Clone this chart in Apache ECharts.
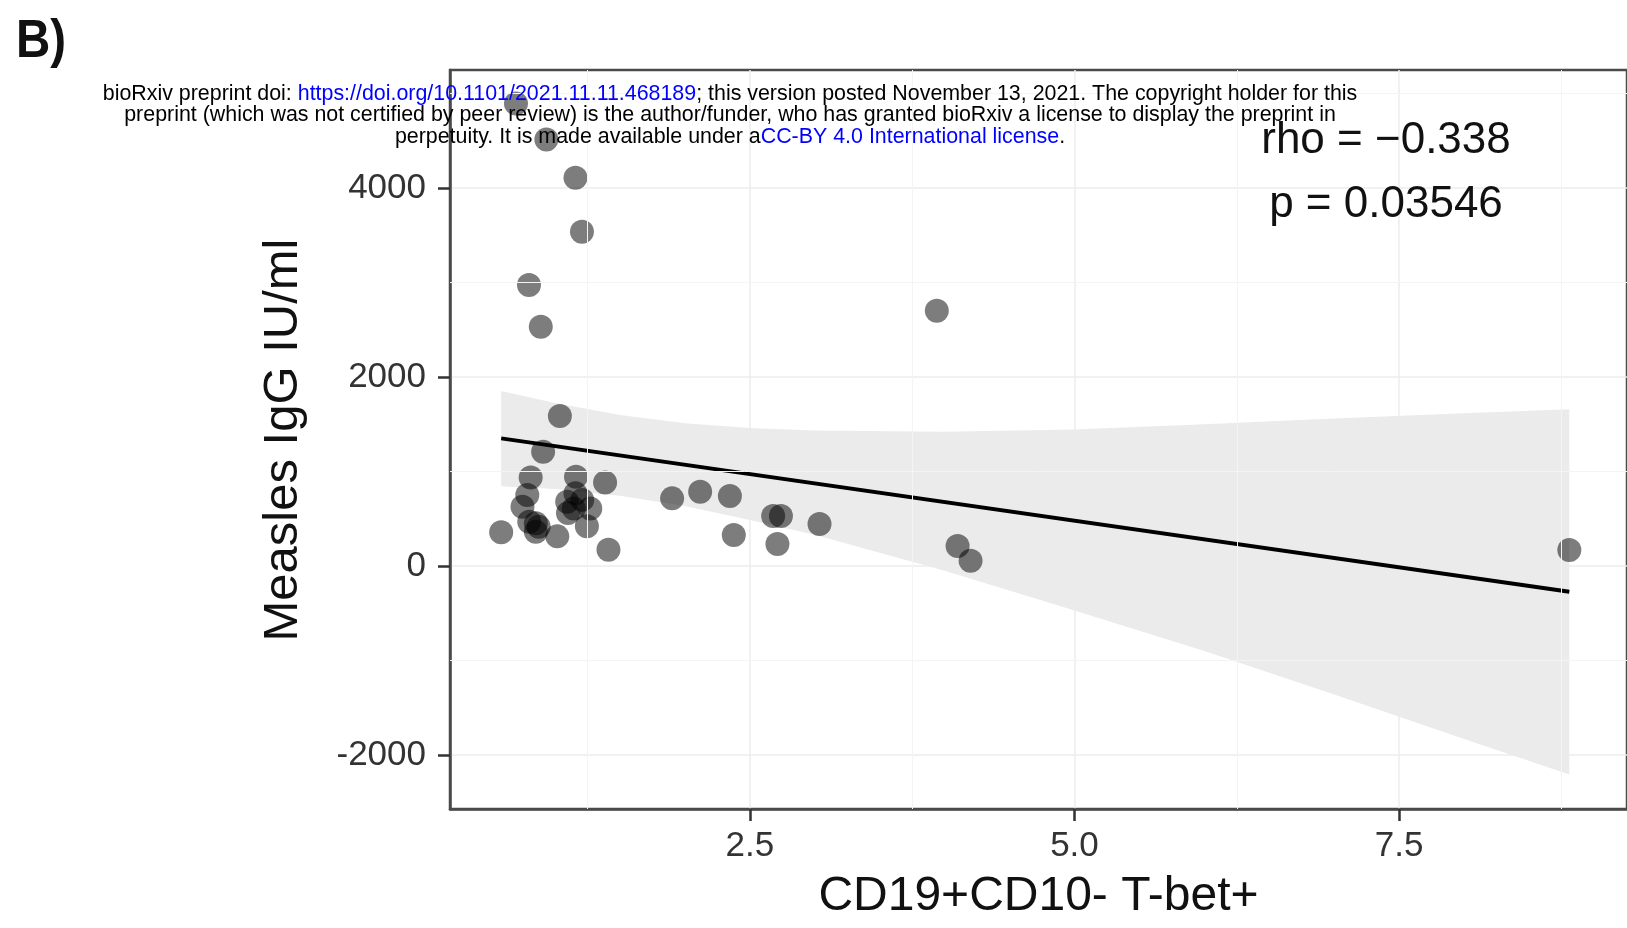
<!DOCTYPE html>
<html>
<head>
<meta charset="utf-8">
<style>
  html, body { margin: 0; padding: 0; background: #fff; }
  #chart { width: 1627px; height: 928px; }
</style>
<script src="https://cdn.jsdelivr.net/npm/echarts@6/dist/echarts.min.js"></script>
</head>
<body>
<div id="chart"></div>
<script>
// values (CD19+CD10- T-bet+ vs measles IgG)
const tbetX = [0.70, 0.934, 1.158, 1.208, 0.80, 0.891, 3.94, 1.038, 0.909, 0.813,
  1.162, 1.386, 0.787, 0.75, 1.094, 1.158, 1.272, 1.145, 0.586, 0.802,
  0.853, 0.853, 1.018, 1.246, 1.412, 1.902, 2.118, 2.347, 2.377, 2.68,
  2.74, 2.713, 3.037, 4.10, 4.20, 8.81, 1.21, 0.875, 1.10]
const measlesIgG = [4895, 4514, 4108, 3537, 2973, 2532, 2701, 1587, 1210, 938,
  945, 885, 751, 627, 680, 769, 610, 610, 358, 469,
  363, 452, 314, 420, 173, 716, 786, 741, 328, 529,
  529, 233, 444, 212, 56, 169, 700, 415, 560]

// lm fit line and its confidence band
const fitX = [0.586, 8.81]
const fitY = [1351, -272]
const bandX = [0.586, 1.0, 1.5, 2.0, 2.5, 3.0, 4.0, 5.0, 6.0, 7.0, 8.0, 8.81]
const bandUpper = [1851, 1725, 1598, 1510, 1460, 1435, 1420, 1445, 1500, 1560, 1616, 1660]
const bandLower = [843, 815, 744, 634, 488, 330, -50, -470, -900, -1360, -1830, -2206]

const xTicks = [2.5, 5.0, 7.5]
const xMinor = [1.25, 3.75, 6.25, 8.75]
const yTicks = [-2000, 0, 2000, 4000]
const yMinor = [-1000, 1000, 3000, 5000]

const FONT = '"Liberation Sans", Arial, sans-serif'
const X_MIN = 0.192
const X_MAX = 9.254
const Y_MIN = -2571
const Y_MAX = 5249

const chart = echarts.init(document.getElementById('chart'))

const points = tbetX.map((x, i) => [x, measlesIgG[i]])
const band = bandX.map((x, i) => [x, bandUpper[i], bandLower[i]])

// minor grid lines (ggplot theme_bw), drawn below the band
const minorLines = xMinor.map(v => ({ xAxis: v })).concat(yMinor.map(v => ({ yAxis: v })))

chart.setOption({
  animation: false,
  grid: {
    left: 450,
    top: 70,
    width: 1189, // right border sits just past the canvas edge, as in the figure
    height: 739,
    show: true,
    borderColor: '#4a4a4a',
    borderWidth: 2.5
  },
  xAxis: {
    type: 'value',
    min: X_MIN,
    max: X_MAX,
    axisLine: { show: true, onZero: false, lineStyle: { color: '#4a4a4a', width: 2.5 } },
    axisTick: { show: true, customValues: xTicks, length: 12, lineStyle: { color: '#333', width: 2.5 } },
    axisLabel: {
      customValues: xTicks,
      margin: 20,
      color: '#333',
      fontSize: 35,
      fontFamily: FONT,
      formatter: v => v.toFixed(1)
    },
    splitLine: { show: true, lineStyle: { color: '#ececec', width: 1.5 } },
    name: 'CD19+CD10- T-bet+',
    nameLocation: 'middle',
    nameGap: 64,
    nameTextStyle: { color: '#111', fontSize: 48, fontFamily: FONT }
  },
  yAxis: {
    type: 'value',
    min: Y_MIN,
    max: Y_MAX,
    axisLine: { show: true, onZero: false, lineStyle: { color: '#4a4a4a', width: 2.5 } },
    axisTick: { show: true, customValues: yTicks, length: 12, lineStyle: { color: '#333', width: 2.5 } },
    axisLabel: {
      customValues: yTicks,
      margin: 24,
      color: '#333',
      fontSize: 35,
      fontFamily: FONT,
      formatter: v => String(v)
    },
    splitLine: { show: true, lineStyle: { color: '#ececec', width: 1.5 } }
  },
  graphic: [
    {
      type: 'text',
      x: 16,
      y: 15,
      scaleX: 0.88,
      style: { text: 'B)', fontSize: 54, fontWeight: 'bold', fontFamily: FONT, fill: '#111' }
    },
    {
      type: 'text',
      rotation: Math.PI / 2,
      x: 283,
      y: 440,
      style: {
        text: 'Measles IgG IU/ml',
        fontSize: 49,
        fontFamily: FONT,
        fill: '#111',
        align: 'center',
        verticalAlign: 'middle'
      }
    },
    {
      type: 'text',
      x: 1386,
      y: 141,
      z: 10,
      style: { text: 'rho = \u22120.338', fontSize: 44, fontFamily: FONT, fill: '#111', align: 'center', verticalAlign: 'middle' }
    },
    {
      type: 'text',
      x: 1386,
      y: 205,
      z: 10,
      style: { text: 'p = 0.03546', fontSize: 44, fontFamily: FONT, fill: '#111', align: 'center', verticalAlign: 'middle' }
    },
    // bioRxiv stamp over the top of the figure
    {
      type: 'text',
      x: 730,
      y: 94,
      z: 20,
      style: {
        text: '{k|bioRxiv preprint doi: }{b|https://doi.org/10.1101/2021.11.11.468189}{k|; this version posted November 13, 2021. The copyright holder for this}',
        align: 'center',
        verticalAlign: 'middle',
        rich: {
          k: { fontSize: 21.4, fontFamily: FONT, fill: '#000', color: '#000' },
          b: { fontSize: 21.4, fontFamily: FONT, fill: '#0000ff', color: '#0000ff' }
        }
      }
    },
    {
      type: 'text',
      x: 730,
      y: 115.5,
      z: 20,
      style: {
        text: 'preprint (which was not certified by peer review) is the author/funder, who has granted bioRxiv a license to display the preprint in',
        fontSize: 21.4,
        fontFamily: FONT,
        fill: '#000',
        align: 'center',
        verticalAlign: 'middle'
      }
    },
    {
      type: 'text',
      x: 730,
      y: 137,
      z: 20,
      style: {
        text: '{k|perpetuity. It is made available under a}{b|CC-BY 4.0 International license}{k|.}',
        align: 'center',
        verticalAlign: 'middle',
        rich: {
          k: { fontSize: 21.4, fontFamily: FONT, fill: '#000', color: '#000' },
          b: { fontSize: 21.4, fontFamily: FONT, fill: '#0000ff', color: '#0000ff' }
        }
      }
    }
  ],
  series: [
    {
      name: 'minor grid',
      type: 'line',
      z: 0,
      data: [],
      silent: true,
      markLine: {
        silent: true,
        symbol: 'none',
        label: { show: false },
        lineStyle: { color: '#f4f4f4', width: 1, type: 'solid' },
        data: minorLines
      }
    },
    {
      name: 'ci band',
      type: 'custom',
      z: 1,
      data: band,
      renderItem: function (params, api) {
        if (params.dataIndex !== 0) return null
        const upper = band.map(d => api.coord([d[0], d[1]]))
        const lower = band.map(d => api.coord([d[0], d[2]])).reverse()
        return {
          type: 'polygon',
          shape: { points: upper.concat(lower) },
          style: { fill: '#ebebeb' }
        }
      }
    },
    {
      name: 'samples',
      type: 'scatter',
      z: 2,
      symbolSize: 24,
      data: points,
      itemStyle: { color: 'rgba(0,0,0,0.64)' }
    },
    {
      name: 'fit',
      type: 'line',
      z: 3,
      symbol: 'none',
      data: fitX.map((x, i) => [x, fitY[i]]),
      lineStyle: { color: '#000', width: 4 }
    }
  ]
})
</script>
</body>
</html>
